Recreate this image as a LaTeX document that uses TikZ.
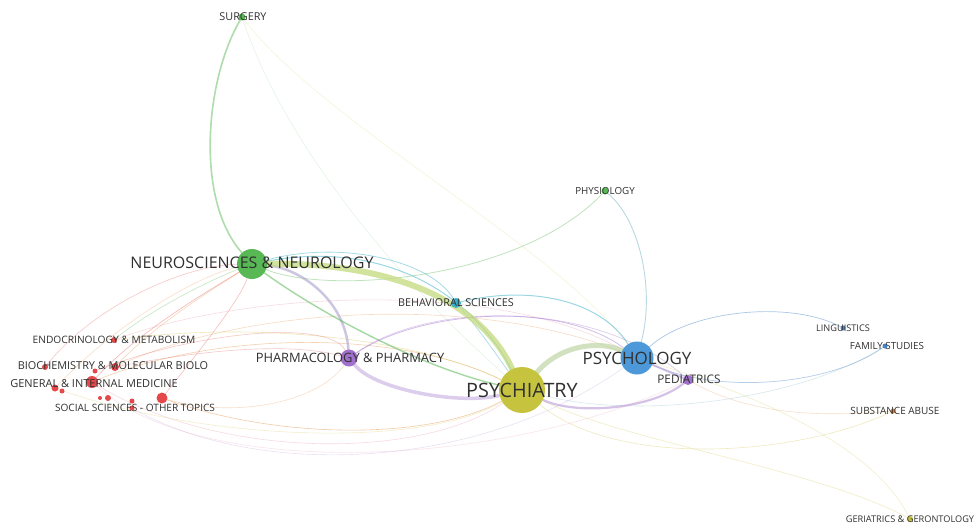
\documentclass[tikz,border=0pt]{standalone}
\usepackage{fontspec}
\setmainfont{Open Sans}
\pgfdeclarelayer{paper}
\pgfdeclarelayer{edges}
\pgfsetlayers{paper,edges,main}

% node colours
\definecolor{cNeuro}{RGB}{88,184,84}
\definecolor{cPsychiatry}{RGB}{198,196,62}
\definecolor{cPsychology}{RGB}{76,152,216}
\definecolor{cPurple}{RGB}{160,112,204}
\definecolor{cBehav}{RGB}{56,176,200}
\definecolor{cRed}{RGB}{228,72,72}
\definecolor{cBlue}{RGB}{70,130,200}
\definecolor{cOrange}{RGB}{220,120,50}
\definecolor{cText}{RGB}{48,48,48}
% link colours
\definecolor{lNeuroPsy}{RGB}{196,218,126}
\definecolor{lPsyPsy}{RGB}{192,214,166}
\definecolor{lLavender}{RGB}{184,156,216}
\definecolor{lGrayPurple}{RGB}{172,160,204}
\definecolor{lOrange}{RGB}{232,150,80}
\definecolor{lPink}{RGB}{232,150,170}
\definecolor{lYellow}{RGB}{222,208,110}
\definecolor{lTeal}{RGB}{140,190,205}

\tikzset{
  dot/.style={circle, inner sep=0pt, draw=none, fill=#1},
  lbl/.style={text=cText, inner sep=0pt, anchor=center},
  link/.style={line cap=round, line width=0.6pt, opacity=0.4},
  small/.style={lbl, font=\fontsize{9.8}{10}\selectfont},
}

\begin{document}
\begin{tikzpicture}[x=1pt,y=-1pt]
\begin{pgfonlayer}{paper}
\fill[white] (0,0) rectangle (974,523);
\end{pgfonlayer}
\useasboundingbox (0,0) rectangle (974,523);

% ---------- items ----------
\node[dot=cNeuro, minimum size=30pt] (neuro) at (252,264) {};
\node[dot=cPsychiatry, minimum size=46pt] (psych) at (522,390) {};
\node[dot=cPsychology, minimum size=33pt] (psychol) at (637,358) {};
\node[dot=cPurple, minimum size=17pt] (pharma) at (349,358) {};
\node[dot=cBehav, minimum size=10pt] (behav) at (456,303) {};
\node[dot=cPurple, minimum size=10pt] (pediat) at (688,380) {};
\node[dot=cNeuro, minimum size=7pt] (surg) at (242,17) {};
\node[dot=cNeuro, minimum size=7pt] (physio) at (605,191) {};
\node[dot=cBlue, minimum size=5pt] (ling) at (843,328) {};
\node[dot=cBlue, minimum size=5pt] (fam) at (885,346) {};
\node[dot=cOrange, minimum size=5pt] (subst) at (893,411) {};
\node[dot=cPsychiatry, minimum size=6pt] (geri) at (910,519) {};
% red cluster
\node[dot=cRed, minimum size=6pt] (endo) at (114,340) {};
\node[dot=cRed, minimum size=6pt] (bioA) at (45,367) {};
\node[dot=cRed, minimum size=8pt] (bioB) at (115,367) {};
\node[dot=cRed, minimum size=5pt] (bioC) at (95,371) {};
\node[dot=cRed, minimum size=12pt] (gim) at (92,382) {};
\node[dot=cRed, minimum size=7pt] (gimB) at (55,388) {};
\node[dot=cRed, minimum size=5pt] (gimC) at (62,391) {};
\node[dot=cRed, minimum size=4pt] (socA) at (100,398) {};
\node[dot=cRed, minimum size=6pt] (socB) at (108,398) {};
\node[dot=cRed, minimum size=5pt] (socC) at (132,401) {};
\node[dot=cRed, minimum size=11pt] (socD) at (162,398) {};
\node[dot=cRed, minimum size=5pt] (soc) at (132,408) {};

% ---------- links ----------
\begin{pgfonlayer}{edges}
% faint links from the top
\draw[link, cNeuro!50, opacity=0.3] (surg) .. controls (290,160) and (420,300) .. (psych);
\draw[link, lYellow, opacity=0.25] (surg) .. controls (320,120) and (560,250) .. (psychol);

% red cluster
\draw[link, cRed] (gim) .. controls (140,330) and (210,290) .. (neuro);
\draw[link, lOrange] (bioB) .. controls (160,320) and (220,285) .. (neuro);
\draw[link, cNeuro, opacity=0.35] (endo) .. controls (150,310) and (210,280) .. (neuro);
\draw[link, cRed, opacity=0.35] (socD) .. controls (200,350) and (240,300) .. (neuro);
\draw[link, cRed, opacity=0.3] (bioA) .. controls (100,300) and (190,265) .. (neuro);
\draw[link, lOrange, opacity=0.3] (gimB) .. controls (120,320) and (200,275) .. (neuro);
\draw[link, lPink, opacity=0.35] (endo) .. controls (250,290) and (500,280) .. (psychol);
\draw[link, lOrange, opacity=0.35] (bioB) .. controls (250,305) and (480,295) .. (psychol);
\draw[link, lOrange, opacity=0.45] (gim) .. controls (220,330) and (400,330) .. (psych);
\draw[link, lOrange, opacity=0.5] (socD) .. controls (280,440) and (430,440) .. (psych);
\draw[link, lPink, opacity=0.35] (gim) .. controls (220,460) and (420,460) .. (psych);
\draw[link, lLavender, opacity=0.3] (soc) .. controls (260,480) and (480,470) .. (psychol);
\draw[link, cRed, opacity=0.3] (bioB) .. controls (230,345) and (300,345) .. (pharma);
\draw[link, lOrange, opacity=0.3] (socD) .. controls (240,420) and (320,400) .. (pharma);
\draw[link, lYellow, opacity=0.5] (endo) .. controls (260,320) and (420,340) .. (psych);
\draw[link, lYellow, opacity=0.35] (gimB) .. controls (200,440) and (420,450) .. (psych);
\draw[link, lPink, opacity=0.25] (gim) .. controls (200,480) and (500,470) .. (pediat);
\draw[link, cRed, opacity=0.3] (bioC) .. controls (200,330) and (330,320) .. (pharma);

% neurosciences
\draw[link, cNeuro!80, line width=1.6pt, opacity=0.6] (surg) .. controls (205,80) and (195,200) .. (neuro);
\draw[link, cNeuro!70, line width=0.8pt, opacity=0.55] (neuro) .. controls (330,295) and (520,280) .. (physio);
\draw[link, cBehav, line width=1pt, opacity=0.5] (neuro) .. controls (380,240) and (470,290) .. (psych);
\draw[link, cBehav, line width=0.8pt, opacity=0.45] (neuro) .. controls (340,240) and (430,260) .. (behav);
\draw[link, lGrayPurple, line width=2.5pt, opacity=0.6] (neuro) .. controls (300,268) and (345,300) .. (pharma);
\draw[link, cNeuro, line width=1.4pt, opacity=0.55] (neuro) .. controls (330,320) and (430,370) .. (psych);

% pharmacology
\draw[link, lLavender, line width=3.5pt, opacity=0.5] (pharma) .. controls (375,390) and (460,405) .. (psych);
\draw[link, cPurple, line width=0.8pt, opacity=0.45] (pharma) .. controls (420,310) and (560,300) .. (psychol);
\draw[link, cPurple, line width=0.7pt, opacity=0.35] (pharma) .. controls (430,300) and (600,300) .. (pediat);

% psychiatry
\draw[link, lYellow, opacity=0.45] (psych) .. controls (620,470) and (800,455) .. (subst);
\draw[link, lYellow, opacity=0.4] (psych) .. controls (620,440) and (820,470) .. (geri);
\draw[link, lOrange, opacity=0.3] (pediat) .. controls (760,420) and (840,415) .. (subst);
\draw[link, lYellow, opacity=0.35] (psychol) .. controls (740,390) and (870,440) .. (geri);
\draw[link, lTeal, opacity=0.35] (psych) .. controls (640,420) and (800,400) .. (fam);
\draw[link, cBehav, line width=0.8pt, opacity=0.4] (behav) .. controls (480,330) and (500,360) .. (psych);
\draw[link, lPsyPsy, line width=5pt, opacity=0.7] (psych) .. controls (560,345) and (600,340) .. (psychol);
\draw[link, lLavender, line width=2.2pt, opacity=0.6] (psych) .. controls (575,415) and (650,410) .. (pediat);

% psychology
\draw[link, lTeal, line width=0.9pt, opacity=0.6] (psychol) .. controls (655,290) and (640,220) .. (physio);
\draw[link, cBlue, line width=0.7pt, opacity=0.45] (psychol) .. controls (690,310) and (790,300) .. (ling);
\draw[link, cBlue, line width=0.7pt, opacity=0.4] (psychol) .. controls (720,395) and (830,385) .. (fam);
\draw[link, cBehav, line width=1pt, opacity=0.5] (behav) .. controls (530,285) and (600,300) .. (psychol);
\draw[link, lLavender, line width=2pt, opacity=0.6] (psychol) -- (pediat);

% main neuro-psychiatry band
\draw[link, lNeuroPsy, line width=6pt, opacity=0.75] (neuro) .. controls (390,262) and (480,300) .. (psych);
\end{pgfonlayer}

% ---------- labels ----------
\node[lbl, font=\fontsize{19.8}{20}\selectfont] (tPsych) at (522,390) {PSYCHIATRY};
\node[lbl, font=\fontsize{17}{18}\selectfont] (tPsychol) at (637,358) {PSYCHOLOGY};
\node[lbl, font=\fontsize{16}{17}\selectfont] (tNeuro) at (252,263) {NEUROSCIENCES \& NEUROLOGY};
\node[lbl, font=\fontsize{12.9}{13}\selectfont] (tPharma) at (350,358) {PHARMACOLOGY \& PHARMACY};
\node[lbl, font=\fontsize{10.8}{11}\selectfont] (tBehav) at (456,303) {BEHAVIORAL SCIENCES};
\node[lbl, font=\fontsize{11.8}{12}\selectfont] (tPediat) at (689,379) {PEDIATRICS};
\node[small, font=\fontsize{10.8}{11}\selectfont] (tSurg) at (243,17) {SURGERY};
\node[small] (tPhysio) at (605,191) {PHYSIOLOGY};
\node[small, font=\fontsize{9.2}{10}\selectfont] (tLing) at (843,328) {LINGUISTICS};
\node[small] (tFam) at (887,346) {FAMILY STUDIES};
\node[small, font=\fontsize{10}{10}\selectfont] (tSubst) at (895,411) {SUBSTANCE ABUSE};
\node[small, font=\fontsize{9.2}{10}\selectfont] (tGeri) at (910,519) {GERIATRICS \& GERONTOLOGY};
\node[small, font=\fontsize{10.2}{11}\selectfont] (tEndo) at (114,340) {ENDOCRINOLOGY \& METABOLISM};
\node[small, font=\fontsize{10.9}{11}\selectfont] (tBio) at (113,366) {BIOCHEMISTRY \& MOLECULAR BIOLO};
\node[small, font=\fontsize{11}{11}\selectfont] (tGim) at (94,384) {GENERAL \& INTERNAL MEDICINE};
\node[small, font=\fontsize{10.1}{11}\selectfont] (tSoc) at (135,408) {SOCIAL SCIENCES - OTHER TOPICS};
\end{tikzpicture}
\end{document}
